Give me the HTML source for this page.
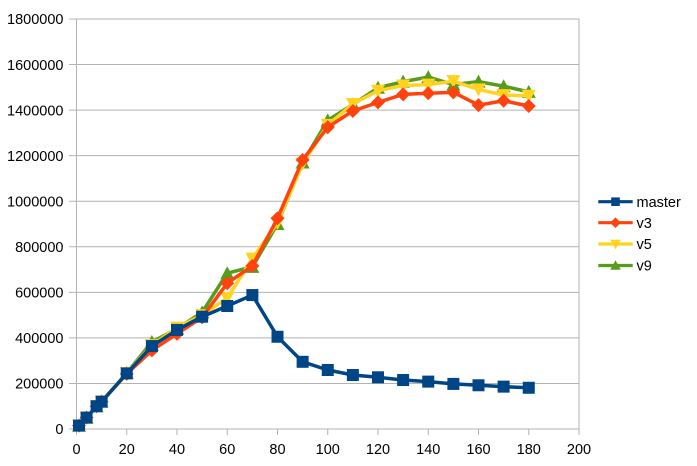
<!DOCTYPE html>
<html><head><meta charset="utf-8"><style>
html,body{margin:0;padding:0;background:#fff;}
svg{display:block;font-family:"Liberation Sans",sans-serif;}
</style></head><body>
<svg id="c" width="697" height="466" viewBox="0 0 697 466" xmlns="http://www.w3.org/2000/svg">
<g id="grid" stroke="#b3b3b3" stroke-width="1" fill="none"></g>
<g id="labels" font-size="14.5" fill="#000"></g>
<g id="series"></g>
<g id="legend"></g>
</svg>
<script>
var NS="http://www.w3.org/2000/svg";
function el(t,a,p){var e=document.createElementNS(NS,t);for(var k in a)e.setAttribute(k,a[k]);p.appendChild(e);return e;}
var X0=76.5,XS=(579-76.5)/200,Y0=429,YS=410/1800000;
function px(x){return X0+x*XS;} function py(v){return Y0-v*YS;}
var g=document.getElementById('grid'),L=document.getElementById('labels');
for(var i=0;i<=9;i++){var y=py(i*200000);
 el('line',{x1:69,y1:y,x2:579,y2:y},g);
 var t=el('text',{x:63.5,y:y+5.2,'text-anchor':'end'},L);t.textContent=String(i*200000);}
el('line',{x1:76.5,y1:19,x2:76.5,y2:435},g);
el('line',{x1:579,y1:19,x2:579,y2:435},g);
for(var i=0;i<=10;i++){var x=px(i*20);
 el('line',{x1:x,y1:429,x2:x,y2:435},g);
 var t=el('text',{x:x,y:454,'text-anchor':'middle'},L);t.textContent=String(i*20);}
var low=[[1,15000],[4,50000],[8,100000],[10,120000]];
var S=[
 {n:'v9',c:'#579d1c',m:'up',d:low.concat([[20,246000],[30,382000],[40,440000],[50,512000],[60,684000],[70,712000],[80,900000],[90,1170000],[100,1355000],[110,1425000],[120,1498000],[130,1525000],[140,1545000],[150,1512000],[160,1525000],[170,1505000],[180,1480000]])},
 {n:'v5',c:'#ffd320',m:'down',d:low.concat([[20,246000],[30,368000],[40,445000],[50,500000],[60,575000],[70,748000],[80,905000],[90,1165000],[100,1335000],[110,1427000],[120,1485000],[130,1508000],[140,1512000],[150,1527000],[160,1491000],[170,1466000],[180,1463000]])},
 {n:'v3',c:'#ff420e',m:'dia',d:low.concat([[20,242000],[30,345000],[40,418000],[50,490000],[60,640000],[70,716000],[80,925000],[90,1181000],[100,1325000],[110,1396000],[120,1434000],[130,1469000],[140,1474000],[150,1478000],[160,1422000],[170,1441000],[180,1418000]])},
 {n:'master',c:'#004586',m:'sq',d:low.concat([[20,244000],[30,364000],[40,435000],[50,493000],[60,540000],[70,588000],[80,405000],[90,295000],[100,259000],[110,237000],[120,227000],[130,215000],[140,208000],[150,198000],[160,192000],[170,186000],[180,181000]])}
];
function marker(m,x,y,r,c,p){
 if(m=='sq')el('rect',{x:x-r,y:y-r,width:2*r,height:2*r,fill:c},p);
 else if(m=='dia')el('polygon',{points:(x)+','+(y-r-1)+' '+(x+r+1)+','+y+' '+x+','+(y+r+1)+' '+(x-r-1)+','+y,fill:c},p);
 else if(m=='up')el('polygon',{points:x+','+(y-r-1)+' '+(x+r+1)+','+(y+r)+' '+(x-r-1)+','+(y+r),fill:c},p);
 else el('polygon',{points:x+','+(y+r+1)+' '+(x+r+1)+','+(y-r)+' '+(x-r-1)+','+(y-r),fill:c},p);
}
var sg=document.getElementById('series');
S.forEach(function(s){
 var pts=s.d.map(function(q){return px(q[0])+','+py(q[1]);}).join(' ');
 el('polyline',{points:pts,fill:'none',stroke:s.c,'stroke-width':3.5,'stroke-linejoin':'round'},sg);
 s.d.forEach(function(q){marker(s.m,px(q[0]),py(q[1]),6,s.c,sg);});
});
var lg=document.getElementById('legend');
var ly={master:201.7,v3:222.7,v5:244,v9:265.5};
S.slice().reverse().forEach(function(s){
 var y=ly[s.n];
 el('line',{x1:598.3,y1:y,x2:632.7,y2:y,stroke:s.c,'stroke-width':3.2},lg);
 marker(s.m,615.5,y,4.3,s.c,lg);
 var t=el('text',{x:636.5,y:y+5.2,'font-size':14.5,fill:'#000'},lg);t.textContent=s.n;
});
</script>
</body></html>
